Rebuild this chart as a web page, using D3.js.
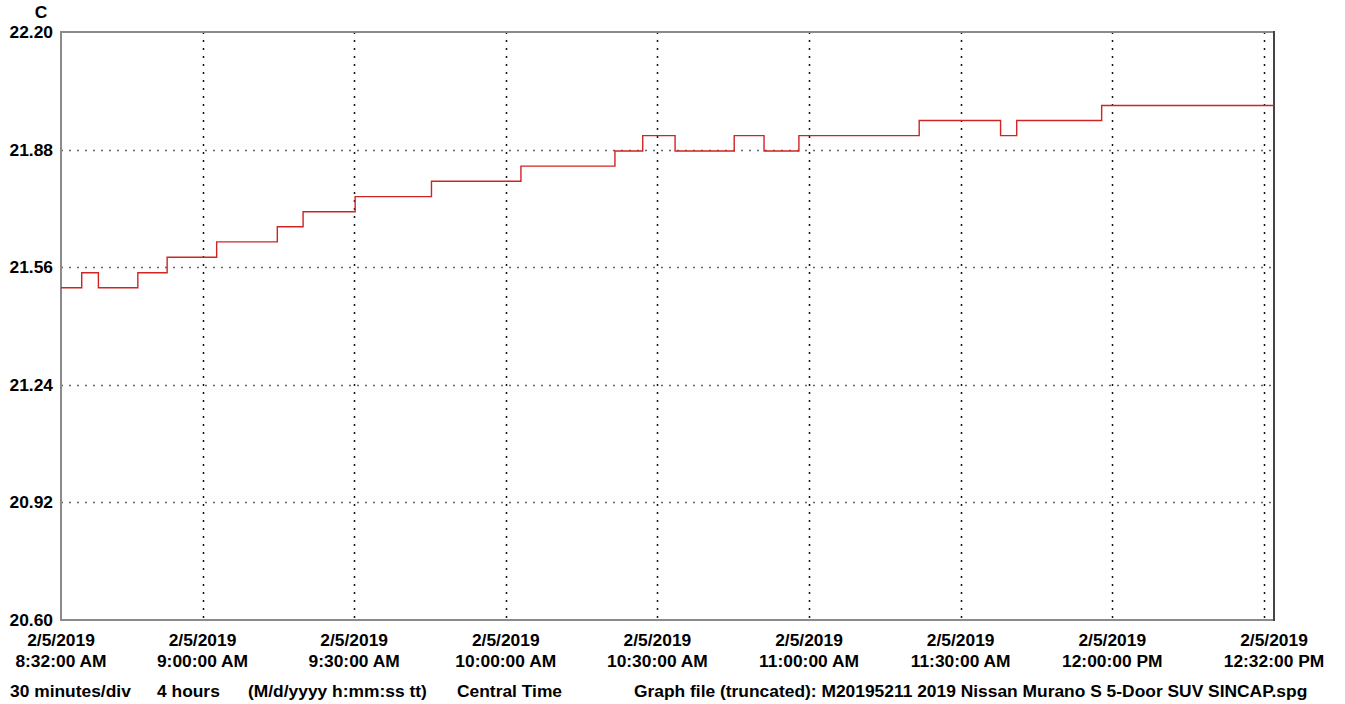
<!DOCTYPE html>
<html>
<head>
<meta charset="utf-8">
<script src="https://d3js.org/d3.v7.min.js"></script>
<style>
  body { margin: 0; background: #fff; }
  text { font-family: "Liberation Sans", Arial, sans-serif; font-weight: bold; font-size: 17.4px; fill: #000; }
</style>
</head>
<body>
<div id="chart"></div>
<script>

// readings (step changes) - time of change and temperature in C
var times = ["8:32:00","8:36:06","8:39:24","8:47:12","8:53:00","9:02:48","9:14:48","9:19:54",
             "9:30:12","9:45:18","10:03:00","10:21:36","10:27:06","10:33:30","10:45:12","10:51:06",
             "10:58:00","11:21:48","11:37:54","11:41:06","11:57:54","12:32:00"];
var temps = [21.504,21.545,21.504,21.545,21.587,21.629,21.670,21.711,
             21.752,21.794,21.835,21.876,21.918,21.876,21.918,21.876,
             21.918,21.959,21.918,21.959,22.000,22.000];

var yTicks = [22.20, 21.88, 21.56, 21.24, 20.92, 20.60];
var xTicks = ["8:32:00","9:00:00","9:30:00","10:00:00","10:30:00","11:00:00","11:30:00","12:00:00","12:32:00"];
var xGrid = ["9:00:00","9:30:00","10:00:00","10:30:00","11:00:00","11:30:00","12:00:00","12:30:00"];
var footer = [
  {t: "30 minutes/div", x: 10},
  {t: "4 hours", x: 157},
  {t: "(M/d/yyyy h:mm:ss tt)", x: 248},
  {t: "Central Time", x: 457},
  {t: "Graph file (truncated): M20195211 2019 Nissan Murano S 5-Door SUV SINCAP.spg", x: 634}
];

var width = 1345, height = 704;
var plotL = 61, plotR = 1274, plotT = 32, plotB = 620;

var parse = d3.timeParse("%m/%d/%Y %H:%M:%S");
function t(s) { return parse("2/5/2019 " + s); }

var data = times.map(function(s, i) { return {date: t(s), v: temps[i]}; });

var x = d3.scaleTime()
  .domain([t("8:32:00"), t("12:32:00")])
  .range([plotL, plotR]);

var y = d3.scaleLinear()
  .domain([20.60, 22.20])
  .range([plotB, plotT]);

var svg = d3.select("#chart").append("svg")
  .attr("width", width)
  .attr("height", height);

// grid
svg.append("g").selectAll("line")
  .data(yTicks.filter(function(d) { return d > 20.6 && d < 22.2; }))
  .enter().append("line")
    .attr("x1", plotL).attr("x2", plotR)
    .attr("y1", function(d) { return Math.round(y(d)) + 0.5; })
    .attr("y2", function(d) { return Math.round(y(d)) + 0.5; })
    .style("stroke", "#666")
    .style("stroke-width", 1.3)
    .style("stroke-dasharray", "2,6");

svg.append("g").selectAll("line")
  .data(xGrid)
  .enter().append("line")
    .attr("x1", function(d) { return Math.round(x(t(d))) + 0.5; })
    .attr("x2", function(d) { return Math.round(x(t(d))) + 0.5; })
    .attr("y1", plotT).attr("y2", plotB)
    .style("stroke", "#111")
    .style("stroke-width", 1.5)
    .style("stroke-dasharray", "2,6");

// frame
svg.append("path")
  .attr("d", "M" + plotR + "," + plotT + "H" + plotL + "V" + plotB + "H" + plotR)
  .style("fill", "none")
  .style("stroke", "#8a8a8a")
  .style("stroke-width", 2);
svg.append("line")
  .attr("x1", plotR).attr("x2", plotR)
  .attr("y1", plotT - 1).attr("y2", plotB + 1)
  .style("stroke", "#444")
  .style("stroke-width", 2);

// the step line
var line = d3.line()
  .curve(d3.curveStepAfter)
  .x(function(d) { return x(d.date); })
  .y(function(d) { return y(d.v); });

svg.append("path")
  .datum(data)
  .attr("d", line)
  .style("fill", "none")
  .style("stroke", "#d02424")
  .style("stroke-width", 1.4);

// y labels
svg.append("text")
  .attr("x", 41).attr("y", 18)
  .attr("text-anchor", "middle")
  .text("C");

svg.append("g").selectAll("text")
  .data(yTicks)
  .enter().append("text")
    .attr("x", 53)
    .attr("y", function(d) { return y(d) + 6; })
    .attr("text-anchor", "end")
    .text(function(d) { return d.toFixed(2); });

// x labels
var fDate = d3.timeFormat("%-m/%-d/%Y"),
    fTime = d3.timeFormat("%-I:%M:%S %p");

var xl = svg.append("g").selectAll("g")
  .data(xTicks)
  .enter().append("g")
    .attr("transform", function(d) { return "translate(" + x(t(d)) + ",0)"; });
xl.append("text")
  .attr("y", 646)
  .attr("text-anchor", "middle")
  .text(function(d) { return fDate(t(d)); });
xl.append("text")
  .attr("y", 667)
  .attr("text-anchor", "middle")
  .text(function(d) { return fTime(t(d)); });

// footer
svg.append("g").selectAll("text")
  .data(footer)
  .enter().append("text")
    .attr("x", function(d) { return d.x; })
    .attr("y", 697)
    .text(function(d) { return d.t; });

</script>
</body>
</html>
